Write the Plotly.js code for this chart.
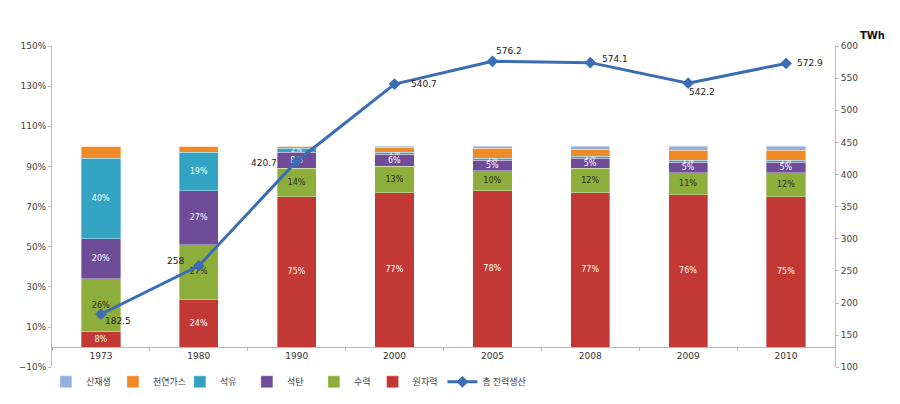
<!DOCTYPE html>
<html>
<head>
<meta charset="utf-8">
<script src="https://cdn.plot.ly/plotly-3.0.1.min.js"></script>
<style>html,body{margin:0;padding:0;background:#fff;}#chart{width:900px;height:404px;}</style>
</head>
<body>
<div id="chart"></div>
<script>
const years = ['1973', '1980', '1990', '2000', '2005', '2008', '2009', '2010'];
const nuclear = [8, 24, 75, 77, 78, 77, 76, 75];        // 원자력
const hydro = [26, 27, 14, 13, 10, 12, 11, 12];         // 수력
const coal = [20, 27, 8, 6, 5, 5, 5, 5];                // 석탄
const oil = [40, 19, 2, 1, 1, 1, 1, 1];                 // 석유
const gas = [6, 3, 1, 2.5, 5, 3.5, 5, 5];               // 천연가스
const renew = [0, 0, 0, 0.5, 1, 1.5, 2, 2];             // 신재생
const totalTWh = [182.5, 258, 420.7, 540.7, 576.2, 574.1, 542.2, 572.9]; // 총 전력생산
const labelShiftX = [17, -23, -33, 29, 17, 25, 14, 24];
const labelShiftY = [-7, 5, -2, 0, 10, 4, -9, 0];

const lbl = arr => arr.map(v => v >= 1 ? v + '%' : '');
const fontK = '"Noto Sans CJK KR", "Noto Sans", sans-serif';
const fontN = '"DejaVu Sans", Verdana, sans-serif';

function barTrace(name, vals, color, showText, txtColor, rank, legendId) {
  return {
    type: 'bar', x: years, y: vals, name: name,
    marker: {color: color, line: {color: 'rgba(255,255,255,0.6)', width: 0.6}},
    width: 0.4,
    text: showText ? lbl(vals) : vals.map(() => ''),
    textposition: 'inside', insidetextanchor: 'middle', constraintext: 'none',
    textfont: {family: fontN, size: vals.map(v => v < 3 ? 7 : 8), color: txtColor},
    hoverinfo: 'skip', legendrank: rank, legend: legendId, cliponaxis: false
  };
}

const data = [
  barTrace('원자력', nuclear, '#c23834', true, '#ffffff', 1, 'legend2'),
  barTrace('수력', hydro, '#8eae3b', true, '#2a2a2a', 5, 'legend'),
  barTrace('석탄', coal, '#6e4c98', true, '#ffffff', 4, 'legend'),
  barTrace('석유', oil, '#32a3c2', true, '#ffffff', 3, 'legend'),
  barTrace('천연가스', gas, '#ef8a27', false, '#ffffff', 2, 'legend'),
  barTrace('신재생', renew, '#92b1dc', false, '#ffffff', 1, 'legend'),
  {
    type: 'scatter', mode: 'lines+markers', x: years, y: totalTWh, yaxis: 'y2',
    name: '총 전력생산', line: {color: '#3a6db3', width: 3},
    marker: {symbol: 'diamond', size: 9, color: '#3a6db3'},
    legend: 'legend2', legendrank: 2, cliponaxis: false
  }
];

const annotations = totalTWh.map((v, i) => ({
  x: i, y: v, xref: 'x', yref: 'y2', text: String(v), showarrow: false,
  xshift: labelShiftX[i], yshift: labelShiftY[i],
  font: {family: fontN, size: 9, color: '#222'}
}));
annotations.push({text: '<b>TWh</b>', xref: 'paper', yref: 'paper', x: 1.03, y: 1.01, xanchor: 'left', yanchor: 'bottom',
  showarrow: false, font: {family: fontN, size: 10, color: '#111'}});

const legendCommon = {
  orientation: 'h', traceorder: 'normal', xref: 'container', yref: 'container',
  y: 0.055, xanchor: 'left', yanchor: 'middle', bgcolor: 'rgba(0,0,0,0)',
  font: {family: fontK, size: 9, color: '#444'}, itemwidth: 30, tracegroupgap: 0
};

const layout = {
  width: 900, height: 404,
  margin: {l: 52, r: 65, t: 46, b: 35},
  paper_bgcolor: '#fff', plot_bgcolor: '#fff',
  barmode: 'stack', showlegend: true,
  font: {family: fontN, size: 9, color: '#444'},
  xaxis: {
    type: 'category', anchor: 'free', position: 20 / 323,
    showline: true, linecolor: '#bbbbbb', linewidth: 1,
    ticks: 'outside', tickson: 'boundaries', ticklen: 3, tickcolor: '#bbbbbb',
    tickfont: {family: fontN, size: 9, color: '#333'},
    showgrid: false, zeroline: false, range: [-0.5, 7.5]
  },
  yaxis: {
    range: [-10, 150], tick0: -10, dtick: 20, ticksuffix: '%',
    showline: true, linecolor: '#bbbbbb', ticks: 'outside', ticklen: 3, tickcolor: '#bbbbbb',
    tickfont: {family: fontN, size: 9, color: '#444'},
    showgrid: false, zeroline: false
  },
  yaxis2: {
    overlaying: 'y', side: 'right', range: [100, 600], dtick: 50,
    showline: true, linecolor: '#bbbbbb', ticks: 'outside', ticklen: 3, tickcolor: '#bbbbbb',
    tickfont: {family: fontN, size: 9, color: '#444'},
    showgrid: false, zeroline: false
  },
  legend: Object.assign({}, legendCommon, {x: 0.051, entrywidth: 22}),
  legend2: Object.assign({}, legendCommon, {x: 0.414}),
  annotations: annotations
};

Plotly.newPlot('chart', data, layout, {displayModeBar: false, staticPlot: true});
</script>
</body>
</html>
